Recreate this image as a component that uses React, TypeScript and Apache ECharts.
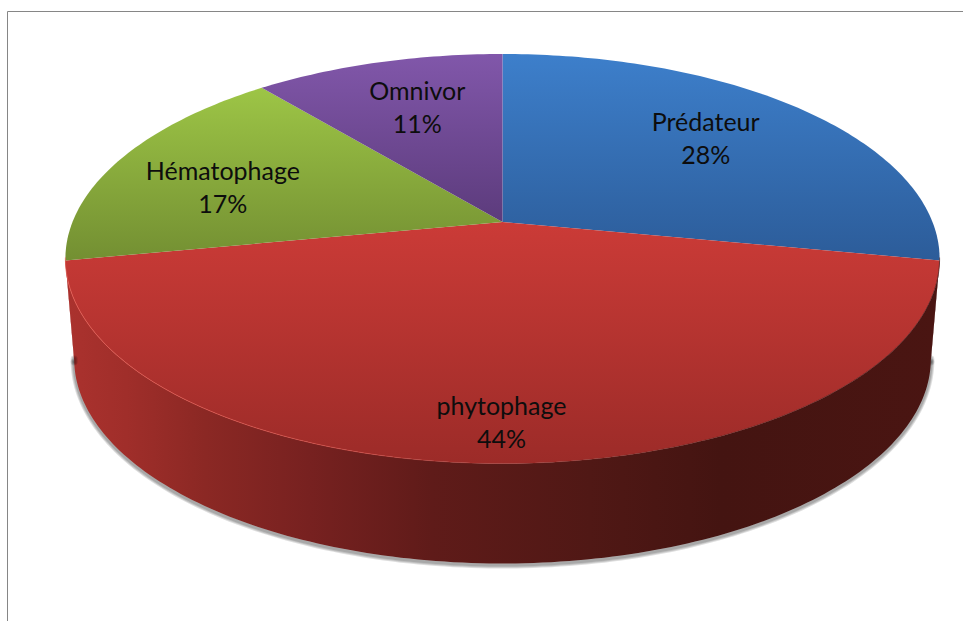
import React, { useEffect, useRef } from "react";
import * as echarts from "echarts";

const categories = ["Prédateur", "phytophage", "Hématophage", "Omnivor"];
const shares = [28, 44, 17, 11];
const topColors = ["#3d7fcb", "#cb3b37", "#9dc546", "#8157aa"];
const bottomColors = ["#2c5c99", "#9c2b28", "#738f32", "#5c3b7c"];

// [radius fraction on the disc, dx, dy] for each slice's label
const labelPlacement = [
  [0.67, -3, -6],
  [0.85, -1, 1],
  [0.7, -8, 10],
  [0.7, 6, 1],
];

const CX = 502.5;
const APEX_Y = 222;
const A_Y = 158.3;
const PERSP = -0.1795;
const A_X = 430;
const DEPTH = 100;
const BOTTOM_SCALE = 0.98;

const project = (X: number, Y: number): [number, number] => {
  const d = 1 + PERSP * Y;
  return [CX + (A_X * X) / d, (A_Y * Y + APEX_Y) / d];
};
const rimPoint = (deg: number, r = 1): [number, number] => {
  const t = (deg * Math.PI) / 180;
  return project(r * Math.sin(t), -r * Math.cos(t));
};

const total = shares.reduce((a, b) => a + b, 0);

const arcAngles = (from: number, to: number) => {
  const out: number[] = [];
  const n = Math.max(8, Math.ceil(to - from));
  for (let i = 0; i <= n; i++) out.push(from + ((to - from) * i) / n);
  return out;
};

const renderSlice = (params: any) => {
  const i = params.dataIndex;
  const before = shares.slice(0, i).reduce((a, b) => a + b, 0);
  const from = (before / total) * 360;
  const to = ((before + shares[i]) / total) * 360;
  const rim = arcAngles(from, to).map((a) => rimPoint(a));
  const points = [project(0, 0), ...rim];
  const ys = points.map((p) => p[1]);
  const children: any[] = [];

  // side wall: the part of the rim that faces the viewer
  const wallFrom = Math.max(from, 100);
  const wallTo = Math.min(to, 260);
  if (wallTo > wallFrom) {
    const front = arcAngles(wallFrom, wallTo).map((a) => rimPoint(a));
    const lower = front
      .slice()
      .reverse()
      .map((p) => [CX + (p[0] - CX) * BOTTOM_SCALE, p[1] + DEPTH]);
    [7, 5, 3].forEach((w) => {
      children.push({
        type: "polyline",
        shape: { points: lower.map((p) => [p[0], p[1] + 1.5]) },
        style: {
          fill: "none",
          stroke: "rgba(0,0,0,0.13)",
          lineWidth: w,
          lineCap: "round",
          lineJoin: "round",
        },
      });
    });
    children.push({
      type: "polygon",
      shape: { points: [...front, ...lower] },
      style: {
        fill: new echarts.graphic.LinearGradient(
          65, 0, 940, 0,
          [
            { offset: 0, color: "#ab322e" },
            { offset: 0.07, color: "#a02e2a" },
            { offset: 0.16, color: "#8b2824" },
            { offset: 0.28, color: "#772120" },
            { offset: 0.42, color: "#5f1b19" },
            { offset: 0.6, color: "#501815" },
            { offset: 0.75, color: "#441411" },
            { offset: 1, color: "#4a1512" },
          ],
          true
        ),
      },
    });
  }

  children.push({
    type: "polygon",
    shape: { points },
    style: {
      fill: new echarts.graphic.LinearGradient(
        0, Math.min(...ys), 0, Math.max(...ys),
        [
          { offset: 0, color: topColors[i] },
          { offset: 1, color: bottomColors[i] },
        ],
        true
      ),
    },
  });

  if (wallTo > wallFrom) {
    children.push({
      type: "polyline",
      shape: { points: arcAngles(wallFrom, wallTo).map((a) => rimPoint(a)) },
      style: {
        fill: "none",
        lineWidth: 1,
        stroke: new echarts.graphic.LinearGradient(
          65, 0, 940, 0,
          [
            { offset: 0, color: "rgba(230,90,80,0.8)" },
            { offset: 0.35, color: "rgba(215,75,68,0.65)" },
            { offset: 0.5, color: "rgba(170,50,45,0.4)" },
            { offset: 0.7, color: "rgba(90,25,20,0.5)" },
            { offset: 1, color: "rgba(50,10,10,0.6)" },
          ],
          true
        ),
      },
    });
  }

  const mid = (from + to) / 2;
  const [r, dx, dy] = labelPlacement[i];
  const c = rimPoint(mid, r);
  children.push({
    type: "text",
    z2: 10,
    style: {
      text: `${categories[i]}\n${shares[i]}%`,
      x: c[0] + dx,
      y: c[1] + dy,
      align: "center",
      verticalAlign: "middle",
      fill: "#0d0d0d",
      font: '25px Lato, "Open Sans", sans-serif',
      lineHeight: 33,
    },
  });

  return { type: "group", children };
};

export default function App() {
  const ref = useRef<HTMLDivElement>(null);
  useEffect(() => {
    document.body.style.margin = "0";
    const chart = echarts.init(ref.current!, undefined, { renderer: "svg" });
    chart.setOption({
      animation: false,
      backgroundColor: "#ffffff",
      graphic: {
        elements: [
          {
            type: "polyline",
            shape: { points: [[7.5, 621], [7.5, 11.5], [963, 11.5]] },
            style: { fill: "none", stroke: "#868686", lineWidth: 1 },
            silent: true,
          },
        ],
      },
      series: [
        {
          type: "custom",
          coordinateSystem: "none",
          silent: true,
          renderItem: renderSlice,
          data: categories.map((name, i) => ({ name, value: shares[i] })),
        },
      ],
    });
    return () => chart.dispose();
  }, []);
  return <div ref={ref} style={{ width: 963, height: 621 }} />;
}
